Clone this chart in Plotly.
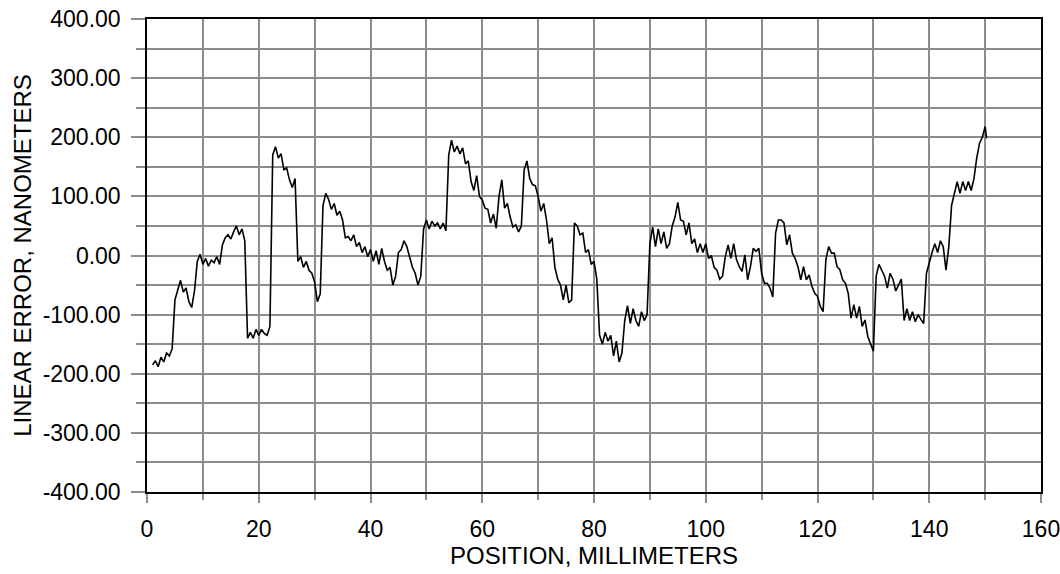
import plotly.graph_objects as go

# Position along axis (mm)
position_mm = [
    1.0, 1.5, 2.0, 2.5, 3.0, 3.5, 4.0, 4.5, 5.0, 5.5, 6.0, 6.5, 7.0, 7.5, 8.0, 8.5, 9.0, 9.5, 10.0, 10.5,
    11.0, 11.5, 12.0, 12.5, 13.0, 13.5, 14.0, 14.5, 15.0, 15.5, 16.0, 16.5, 17.0, 17.5, 18.0, 18.5, 19.0, 19.5, 20.0, 20.5,
    21.0, 21.5, 22.0, 22.5, 23.0, 23.5, 24.0, 24.5, 25.0, 25.5, 26.0, 26.5, 27.0, 27.5, 28.0, 28.5, 29.0, 29.5, 30.0, 30.5,
    31.0, 31.5, 32.0, 32.5, 33.0, 33.5, 34.0, 34.5, 35.0, 35.5, 36.0, 36.5, 37.0, 37.5, 38.0, 38.5, 39.0, 39.5, 40.0, 40.5,
    41.0, 41.5, 42.0, 42.5, 43.0, 43.5, 44.0, 44.5, 45.0, 45.5, 46.0, 46.5, 47.0, 47.5, 48.0, 48.5, 49.0, 49.5, 50.0, 50.5,
    51.0, 51.5, 52.0, 52.5, 53.0, 53.5, 54.0, 54.5, 55.0, 55.5, 56.0, 56.5, 57.0, 57.5, 58.0, 58.5, 59.0, 59.5, 60.0, 60.5,
    61.0, 61.5, 62.0, 62.5, 63.0, 63.5, 64.0, 64.5, 65.0, 65.5, 66.0, 66.5, 67.0, 67.5, 68.0, 68.5, 69.0, 69.5, 70.0, 70.5,
    71.0, 71.5, 72.0, 72.5, 73.0, 73.5, 74.0, 74.5, 75.0, 75.5, 76.0, 76.5, 77.0, 77.5, 78.0, 78.5, 79.0, 79.5, 80.0, 80.5,
    81.0, 81.5, 82.0, 82.5, 83.0, 83.5, 84.0, 84.5, 85.0, 85.5, 86.0, 86.5, 87.0, 87.5, 88.0, 88.5, 89.0, 89.5, 90.0, 90.5,
    91.0, 91.5, 92.0, 92.5, 93.0, 93.5, 94.0, 94.5, 95.0, 95.5, 96.0, 96.5, 97.0, 97.5, 98.0, 98.5, 99.0, 99.5, 100.0, 100.5,
    101.0, 101.5, 102.0, 102.5, 103.0, 103.5, 104.0, 104.5, 105.0, 105.5, 106.0, 106.5, 107.0, 107.5, 108.0, 108.5, 109.0, 109.5, 110.0, 110.5,
    111.0, 111.5, 112.0, 112.5, 113.0, 113.5, 114.0, 114.5, 115.0, 115.5, 116.0, 116.5, 117.0, 117.5, 118.0, 118.5, 119.0, 119.5, 120.0, 120.5,
    121.0, 121.5, 122.0, 122.5, 123.0, 123.5, 124.0, 124.5, 125.0, 125.5, 126.0, 126.5, 127.0, 127.5, 128.0, 128.5, 129.0, 129.5, 130.0, 130.5,
    131.0, 131.5, 132.0, 132.5, 133.0, 133.5, 134.0, 134.5, 135.0, 135.5, 136.0, 136.5, 137.0, 137.5, 138.0, 138.5, 139.0, 139.5, 140.0, 140.5,
    141.0, 141.5, 142.0, 142.5, 143.0, 143.5, 144.0, 144.5, 145.0, 145.5, 146.0, 146.5, 147.0, 147.5, 148.0, 148.5, 149.0, 149.5, 150.0, 150.25,
]

# Linear error (nm)
linear_error_nm = [
    -185, -178, -188, -172, -180, -165, -170, -158, -75, -58, -42, -62, -55, -78, -88, -60, -10, 2, -15, -5,
    -18, -8, -12, -2, -15, 18, 30, 35, 28, 40, 50, 35, 45, 25, -140, -130, -140, -125, -135, -125,
    -132, -135, -120, 170, 184, 165, 172, 145, 148, 128, 115, 130, -10, -2, -20, -10, -25, -30, -45, -78,
    -65, 85, 105, 95, 78, 88, 68, 75, 60, 30, 32, 25, 35, 15, 22, 5, 15, -2, 10, -10,
    8, -15, 12, -10, -25, -20, -50, -35, 5, 10, 25, 15, -2, -20, -30, -50, -35, 45, 60, 45,
    58, 50, 55, 45, 55, 42, 170, 195, 175, 185, 172, 182, 155, 160, 125, 110, 135, 100, 94, 80,
    78, 55, 70, 46, 100, 128, 80, 88, 65, 48, 52, 40, 50, 145, 160, 130, 120, 118, 100, 75,
    88, 60, 20, 30, -20, -40, -50, -75, -50, -80, -75, 55, 50, 35, 38, 5, 10, -15, -10, -40,
    -135, -150, -130, -145, -135, -170, -145, -180, -165, -110, -85, -115, -90, -110, -120, -95, -110, -100, 20, 48,
    15, 45, 20, 40, 12, 20, 50, 65, 90, 60, 58, 35, 55, 20, 28, 5, 20, 5, 20, -5,
    0, -20, -25, -40, -35, -2, 18, -5, 20, -7, -19, -27, 1, -41, -19, 12, 7, 12, -30, -47,
    -47, -55, -70, 38, 60, 60, 55, 18, 35, 4, -5, -19, -41, -19, -41, -33, -52, -64, -69, -86,
    -95, -7, 15, 4, 4, -19, -24, -41, -47, -64, -106, -83, -106, -86, -120, -109, -137, -148, -162, -35,
    -15, -25, -35, -55, -30, -40, -60, -50, -40, -110, -90, -110, -95, -112, -100, -108, -115, -30, -10, 5,
    20, 5, 25, 15, -25, 15, 85, 105, 125, 105, 125, 110, 125, 110, 130, 165, 190, 200, 218, 198,
]

x_tick_vals = [0, 20, 40, 60, 80, 100, 120, 140, 160]
x_tick_text = ["0", "20", "40", "60", "80", "100", "120", "140", "160"]
y_tick_vals = [-400, -300, -200, -100, 0, 100, 200, 300, 400]
y_tick_text = ["-400.00", "-300.00", "-200.00", "-100.00", "0.00", "100.00", "200.00", "300.00", "400.00"]

FONT = "Liberation Sans, Arial, sans-serif"
GRID = "#8c8c8c"

fig = go.Figure()
fig.add_trace(go.Scatter(
    x=position_mm, y=linear_error_nm, mode="lines",
    line=dict(color="black", width=1.6), showlegend=False,
))

fig.update_layout(
    width=1060, height=574,
    margin=dict(l=147, r=19, t=19, b=82),
    paper_bgcolor="white", plot_bgcolor="white",
    font=dict(family=FONT, size=23, color="black"),
    xaxis=dict(
        range=[0, 160], tickmode="array", tickvals=x_tick_vals, ticktext=x_tick_text,
        ticks="outside", ticklen=9, tickwidth=1.5, tickcolor=GRID,
        showgrid=True, gridcolor=GRID, gridwidth=1.5,
        minor=dict(dtick=10, tick0=0, ticks="outside", ticklen=6, tickwidth=1.5, tickcolor=GRID,
                   showgrid=True, gridcolor=GRID, gridwidth=1.5),
        showline=True, linecolor="black", linewidth=1.5, mirror=True,
        zeroline=False, ticklabelstandoff=7, automargin=False, ticklabeloverflow="allow",
        tickfont=dict(family=FONT, size=23, color="black"),
        title=dict(text="POSITION, MILLIMETERS", font=dict(family=FONT, size=24), standoff=2),
    ),
    yaxis=dict(
        range=[-400, 400], tickmode="array", tickvals=y_tick_vals, ticktext=y_tick_text,
        ticks="outside", ticklen=14, tickwidth=1.5, tickcolor=GRID,
        showgrid=True, gridcolor=GRID, gridwidth=1.5,
        minor=dict(dtick=50, tick0=0, ticks="outside", ticklen=9, tickwidth=1.5, tickcolor=GRID,
                   showgrid=True, gridcolor=GRID, gridwidth=1.5),
        showline=True, linecolor="black", linewidth=1.5, mirror=True,
        zeroline=False, ticklabelstandoff=6, automargin=False, ticklabeloverflow="allow",
        tickfont=dict(family=FONT, size=23, color="black"),
        title=dict(text="LINEAR ERROR, NANOMETERS", font=dict(family=FONT, size=24), standoff=4),
    ),
)

fig.write_html(
    "out.html",
    config={"displayModeBar": False},
    post_script="document.body.style.margin='0';document.body.style.overflow='hidden';",
)
